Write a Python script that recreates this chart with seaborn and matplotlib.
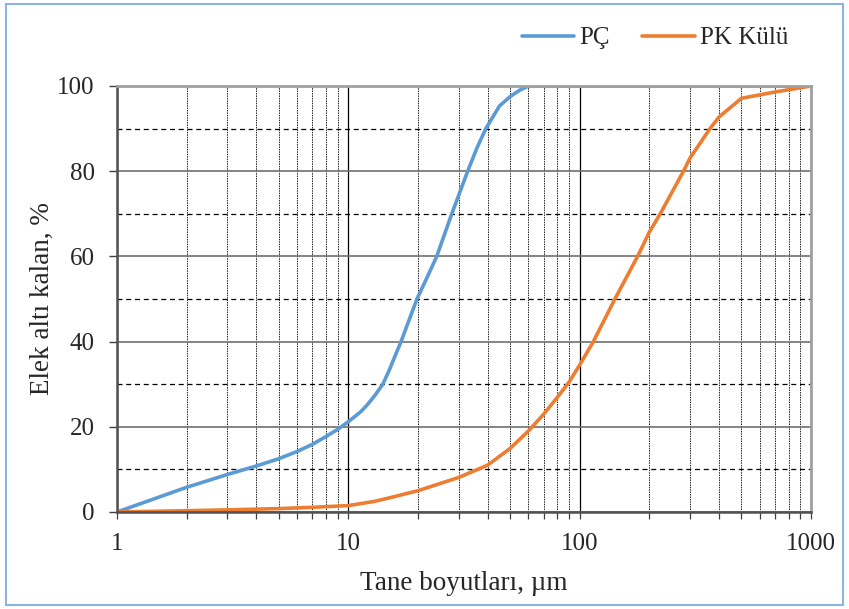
import pandas as pd
import matplotlib.pyplot as plt
import seaborn as sns
from matplotlib.ticker import LogLocator, FixedLocator, NullFormatter
from matplotlib.patches import Rectangle

# veriler
pc_x = [1, 2, 3, 4, 5, 6, 7, 8, 9, 10, 11.3, 12, 13, 14.1, 15, 16, 16.9, 18, 19.8,
        22, 24.1, 28, 32.8, 36, 39.3, 45, 50, 55, 60, 100, 1000]
pc_y = [0, 5.8, 8.8, 10.8, 12.5, 14.2, 15.9, 17.7, 19.4, 21.2, 23.5, 25, 27.3, 30, 33.2, 36.9,
        40, 44, 50, 55.3, 60, 70, 80, 85.5, 90, 95.3, 97.5, 99, 100, 100, 100]

pk_x = [1, 2, 3, 5, 7, 10, 13, 15, 20, 30, 40, 50, 60, 70, 80, 90, 100, 114.6,
        142, 178, 200, 223, 281, 300, 366, 400, 500, 700, 1000]
pk_y = [0, 0.3, 0.5, 0.8, 1.1, 1.5, 2.5, 3.3, 5.0, 8.1, 11.0, 14.9, 19.0, 23.0, 26.9,
        30.5, 34.5, 40, 50, 60, 65.7, 70, 80, 83.1, 90, 92.7, 97.1, 98.6, 100]

series_names = ['PÇ', 'PK Külü']
colors = ['#5B9BD5', '#ED7D31']

df = pd.concat([
    pd.DataFrame({'x': pc_x, 'y': pc_y, 'seri': series_names[0]}),
    pd.DataFrame({'x': pk_x, 'y': pk_y, 'seri': series_names[1]}),
])

sns.set_theme(style='white')
plt.rcParams['font.family'] = ['Liberation Serif', 'DejaVu Serif']

fig = plt.figure(figsize=(8.49, 6.09), dpi=100)
ax = fig.add_axes([117 / 849, 97 / 609, 694 / 849, 426 / 609])

sns.lineplot(data=df, x='x', y='y', hue='seri', palette=colors, linewidth=2.6,
             sort=False, ax=ax, legend=True)

ax.set_xscale('log')
ax.set_xlim(1, 1000)
ax.set_ylim(0, 100)
ax.set_yticks([0, 20, 40, 60, 80, 100])
ax.yaxis.set_minor_locator(FixedLocator([10, 30, 50, 70, 90]))
ax.xaxis.set_major_locator(FixedLocator([1, 10, 100, 1000]))
ax.set_xticklabels(['1', '10', '100', '1000'])
ax.xaxis.set_minor_locator(LogLocator(base=10, subs=range(2, 10)))
ax.xaxis.set_minor_formatter(NullFormatter())

# izgara
ax.grid(which='major', axis='y', color='#707070', lw=1.2, ls='-')
ax.grid(which='minor', axis='y', color='black', lw=0.9, ls=(0, (4, 3)))
ax.grid(which='major', axis='x', color='black', lw=0.9, ls='-')
ax.grid(which='minor', axis='x', color='#222222', lw=0.7, ls=(0, (1.5, 1)))
ax.set_axisbelow(True)

for side in ['left', 'bottom']:
    ax.spines[side].set_color('#505050')
    ax.spines[side].set_linewidth(1.8)
for side in ['top', 'right']:
    ax.spines[side].set_color('#a0a0a0')
    ax.spines[side].set_linewidth(2.0)

ax.tick_params(axis='y', which='major', direction='out', length=6, width=1, color='#404040',
               labelsize=18, pad=10, left=True)
ax.tick_params(axis='y', which='minor', left=False)
ax.tick_params(axis='x', which='both', direction='out', length=5, width=0.9, color='#404040',
               labelsize=18, pad=10, bottom=True)

ax.set_xlabel('Tane boyutları, µm', fontsize=19.5, labelpad=12)
ax.set_ylabel('Elek altı kalan, %', fontsize=19.5, labelpad=2)

ax.get_legend().remove()
handles, labels = ax.get_legend_handles_labels()
fig.legend(handles, labels, loc='center left', bbox_to_anchor=(499 / 849, 571 / 609),
           ncol=2, frameon=False, fontsize=18, handlelength=2.1, handletextpad=0.2,
           columnspacing=1.3)

# dış çerçeve
fig.patches.append(Rectangle((6 / 849, 4 / 609), 837 / 849, 601 / 609, transform=fig.transFigure,
                             fill=False, edgecolor='#8DB3E2', lw=1.5))

fig.savefig('out.png', dpi=100)
